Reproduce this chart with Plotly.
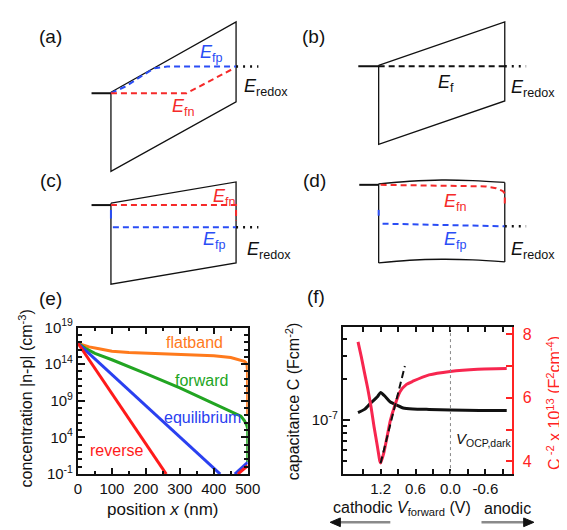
import plotly.graph_objects as go

W, H = 567, 530
FONT = "Liberation Sans, Arial, sans-serif"

# ---------------- panel (e): |n-p| vs position ----------------
pos_flat = [0, 15, 33, 62, 100, 150, 200, 300, 400, 450, 472, 485, 490, 495, 498, 499.5, 500]
conc_flat = [7e16, 4e16, 2.3e16, 1.3e16, 6e15, 3.8e15, 3.0e15, 2.3e15, 1.4e15, 8e14, 4.6e14, 3.2e14, 2.5e14, 1.6e14, 8e13, 1e13, 1.5e7]

pos_fwd = [0, 25, 50, 100, 200, 300, 400, 450, 480, 490, 497, 500, 500]
conc_fwd = [7e16, 1.2e16, 3e15, 4e14, 5e12, 6e10, 4e8, 4e7, 8e6, 2e6, 5e5, 1.6e5, 4]

pos_eq = [0, 419, None, 462, 500]
conc_eq = [7e16, 0.1, None, 0.1, 4]

pos_rev = [0, 260, None, 471, 500]
conc_rev = [7e16, 0.1, None, 0.1, 1.4]

e_yticks = [1e-1, 1e4, 1e9, 1e14, 1e19]
e_yticktext = ["10<sup>-1</sup>", "10<sup>4</sup>", "10<sup>9</sup>", "10<sup>14</sup>", "10<sup>19</sup>"]
e_yminor = [10.0 ** k for k in range(-1, 20)]

# ---------------- panel (f): capacitance vs V ----------------
V_cap = [1.588, 1.478, 1.367, 1.255, 1.2, 1.117, 1.033, 0.922, 0.812, 0.645, 0.367, 0.0, -0.5, -0.967]
C_cap = [1.135e-7, 1.2e-7, 1.34e-7, 1.49e-7, 1.6e-7, 1.49e-7, 1.36e-7, 1.29e-7, 1.23e-7, 1.21e-7, 1.2e-7, 1.19e-7, 1.18e-7, 1.18e-7]

V_ms = [1.588, 1.533, 1.478, 1.422, 1.367, 1.312, 1.255, 1.212, 1.2, 1.145, 1.088, 1.033, 0.95, 0.867, 0.755, 0.645, 0.367, 0.005, -0.467, -0.967]
C_ms = [7.76, 7.3, 6.8, 6.3, 5.74, 5.08, 4.47, 4.0, 3.95, 4.27, 4.78, 5.28, 5.79, 6.19, 6.42, 6.52, 6.72, 6.83, 6.9, 6.92]

V_fit = [1.2, 0.783]
C_fit = [3.94, 7.0]

V_OCP = 0.0
f_xticks = [1.2, 0.6, 0.0, -0.6]
f_xticktext = ["1.2", "0.6", "0.0", "-0.6"]
f_yminor = [4e-8, 5e-8, 6e-8, 7e-8, 8e-8, 9e-8, 2e-7, 3e-7, 4e-7]

# ---------------- schematic band diagrams (pixel coordinates) ----------------
a_band_x = [102, 231, 231, 102, 102]
a_band_y = [76, 3, 86, 158, 76]
a_metal_x = [82, 102]
a_metal_y = [77, 77]
a_efp_x = [102, 117, 133, 147, 160, 231]
a_efp_y = [77, 70, 59.5, 51, 49.3, 49.3]
a_efn_x = [102, 180, 229]
a_efn_y = [77, 77, 51]
a_redox_x = [231, 254]
a_redox_y = [49.3, 49.3]

b_band_x = [378, 508, 508, 378, 378]
b_band_y = [48, 3, 85, 130, 48]
b_metal_x = [357, 378]
b_metal_y = [49, 49]
b_ef_x = [378, 508]
b_ef_y = [49, 49]
b_redox_x = [508, 530]
b_redox_y = [49, 49]

c_band_x = [102, 231, 231, 102, 102]
c_band_y = [191, 169, 253, 275, 191]
c_metal_x = [82, 102]
c_metal_y = [193, 193]
c_efn_x = [102, 231, 231]
c_efn_y = [193, 193, 209]
c_efp_x = [104, 231]
c_efp_y = [216, 216]
c_efp_edge_x = [102, 102]
c_efp_edge_y = [198, 207]
c_redox_x = [231, 254]
c_redox_y = [216, 216]

d_top_x = [378, 410, 443, 475, 508]
d_top_y = [171, 168.3, 167, 167.6, 169.5]
d_bot_x = [378, 410, 443, 475, 508]
d_bot_y = [253, 250.2, 249.2, 249.8, 252]
d_left_x = [378, 378]
d_left_y = [171, 253]
d_right_x = [508, 508]
d_right_y = [169.5, 252]
d_metal_x = [358, 378]
d_metal_y = [172, 172]
d_efn_x = [380, 440, 488, 499, 506, 508, 508]
d_efn_y = [172, 172.5, 173.6, 175.5, 178.5, 181, 192]
d_efp_x = [382, 508]
d_efp_y = [212.3, 215]
d_efp_edge_x = [378, 378]
d_efp_edge_y = [198, 204]
d_redox_x = [508, 530]
d_redox_y = [215, 215]

# arrows under panel (f)
arr_left_x = [390, 336]
arr_right_x = [484, 529]
arr_y = [522, 522]
head_left_x = [328, 338.5, 338.5, 328]
head_left_y = [522, 517.5, 526.5, 522]
head_right_x = [538, 527.5, 527.5, 538]
head_right_y = [522, 517.5, 526.5, 522]

BLACK = "#111111"
BLUE = "#2a4df5"
RED = "#f52a2a"
ORANGE = "#ff7a1c"
GREEN = "#22a522"
EBLUE = "#2a40f0"
ERED = "#ff1a1a"
PINK = "#f7264f"
TRED = "#ff2424"

fig = go.Figure()

# ---- (e) curves
for xs, ys, col in [(pos_flat, conc_flat, ORANGE), (pos_fwd, conc_fwd, GREEN),
                    (pos_eq, conc_eq, EBLUE), (pos_rev, conc_rev, ERED)]:
    fig.add_trace(go.Scatter(x=xs, y=ys, mode="lines", xaxis="x", yaxis="y",
                             line=dict(color=col, width=3), showlegend=False))

# ---- (f) curves
fig.add_trace(go.Scatter(x=V_cap, y=C_cap, mode="lines", xaxis="x2", yaxis="y2",
                         line=dict(color=BLACK, width=3, shape="spline", smoothing=0.6),
                         showlegend=False))
fig.add_trace(go.Scatter(x=V_ms, y=C_ms, mode="lines", xaxis="x2", yaxis="y3",
                         line=dict(color=PINK, width=3, shape="spline", smoothing=0.6),
                         showlegend=False))
fig.add_trace(go.Scatter(x=V_fit, y=C_fit, mode="lines", xaxis="x2", yaxis="y3",
                         line=dict(color=BLACK, width=2, dash="7px,4px"), showlegend=False))

# ---- schematics
def seg(xs, ys, color=BLACK, width=1.3, dash=None, shape="linear"):
    fig.add_trace(go.Scatter(x=xs, y=ys, mode="lines", xaxis="x3", yaxis="y4",
                             line=dict(color=color, width=width, dash=dash, shape=shape),
                             showlegend=False, hoverinfo="skip"))

DASH = "6px,4px"
DOT = "2px,5px"
# (a)
seg(a_band_x, a_band_y)
seg(a_metal_x, a_metal_y, width=2)
seg(a_efp_x, a_efp_y, BLUE, 2, DASH)
seg(a_efn_x, a_efn_y, RED, 2, DASH)
seg(a_redox_x, a_redox_y, BLACK, 2.5, DOT)
# (b)
seg(b_band_x, b_band_y)
seg(b_metal_x, b_metal_y, width=2)
seg(b_ef_x, b_ef_y, BLACK, 2, DASH)
seg(b_redox_x, b_redox_y, BLACK, 2.5, DOT)
# (c)
seg(c_band_x, c_band_y)
seg(c_metal_x, c_metal_y, width=2)
seg(c_efn_x, c_efn_y, RED, 2, DASH)
seg(c_efp_x, c_efp_y, BLUE, 2, DASH)
seg(c_efp_edge_x, c_efp_edge_y, BLUE, 2)
seg(c_redox_x, c_redox_y, BLACK, 2.5, DOT)
# (d)
seg(d_top_x, d_top_y, shape="spline")
seg(d_bot_x, d_bot_y, shape="spline")
seg(d_left_x, d_left_y)
seg(d_right_x, d_right_y)
seg(d_metal_x, d_metal_y, width=2)
seg(d_efn_x, d_efn_y, RED, 2, DASH)
seg(d_efp_x, d_efp_y, BLUE, 2, DASH)
seg(d_efp_edge_x, d_efp_edge_y, BLUE, 2)
seg(d_redox_x, d_redox_y, BLACK, 2.5, DOT)

# arrows
seg(arr_left_x, arr_y, "#8a8a8a", 2.5)
seg(arr_right_x, arr_y, "#8a8a8a", 2.5)
for hx, hy in [(head_left_x, head_left_y), (head_right_x, head_right_y)]:
    fig.add_trace(go.Scatter(x=hx, y=hy, mode="lines", fill="toself", fillcolor=BLACK,
                             xaxis="x3", yaxis="y4", line=dict(color=BLACK, width=1),
                             showlegend=False, hoverinfo="skip"))

# vertical dotted line at V_OCP
fig.add_shape(type="line", xref="x2", yref="y2 domain", x0=V_OCP, x1=V_OCP, y0=0, y1=1,
              line=dict(color="#888888", width=1, dash="dot"))

ann = []
def txt(x, y, t, size=16, color=BLACK, xanchor="center", angle=0):
    ann.append(dict(x=x, y=y, xref="x3", yref="y4", text=t, showarrow=False,
                    font=dict(size=size, color=color, family=FONT),
                    xanchor=xanchor, yanchor="middle", textangle=angle))

# panel letters
for lx, ly, lt in [(40, 18, "(a)"), (311, 18, "(b)"), (40, 167, "(c)"), (312, 167, "(d)"),
                   (40, 290, "(e)"), (313, 288, "(f)")]:
    txt(lx, ly, lt, size=19)

EF = lambda s: "<i>E</i><sub>%s</sub>" % s
# (a)
txt(192, 36, EF("fp"), 18, BLUE, "left")
txt(163, 92, EF("fn"), 18, RED, "left")
txt(237, 71, EF("redox"), 18, BLACK, "left")
# (b)
txt(437, 67, EF("f"), 18, BLACK, "left")
txt(512, 72, EF("redox"), 18, BLACK, "left")
# (c)
txt(205, 185, EF("fn"), 18, RED, "left")
txt(195, 230, EF("fp"), 18, BLUE, "left")
txt(240, 240, EF("redox"), 18, BLACK, "left")
# (d)
txt(443, 190, EF("fn"), 18, RED, "left")
txt(443, 230, EF("fp"), 18, BLUE, "left")
txt(512, 240, EF("redox"), 18, BLACK, "left")

# (e) labels
txt(188, 336, "flatband", 16, ORANGE)
txt(195, 375, "forward", 16, GREEN)
txt(196, 413, "equilibrium", 16, EBLUE)
txt(108, 448, "reverse", 16, ERED)
txt(156, 509, "position <i>x</i> (nm)", 17)
txt(14, 394, "concentration |n-p| (cm<sup>-3</sup>)", 16, angle=-90)

# (f) labels
txt(456, 436, "<i>V</i><sub>OCP,dark</sub>", 15, BLACK, "left")
txt(289, 396, "capacitance C (Fcm<sup>-2</sup>)", 16, angle=-90)
txt(558, 398, "C<sup> -2</sup> x 10<sup>13</sup> (F<sup>2</sup>cm<sup>-4</sup>)", 16, TRED, angle=-90)
txt(329, 508, "cathodic <i>V</i><sub>forward</sub> (V)", 16, BLACK, "left")
txt(485, 508, "anodic", 16, BLACK, "left")

def dom_x(a, b):
    return [a / W, b / W]

def dom_y(top, bottom):
    return [1 - bottom / H, 1 - top / H]

axis_common = dict(showgrid=False, zeroline=False, ticks="inside", showline=True,
                   linecolor=BLACK, linewidth=2, tickcolor=BLACK, tickwidth=1.5,
                   tickfont=dict(size=15, family=FONT, color=BLACK))

fig.update_layout(
    width=W, height=H, margin=dict(l=0, r=0, t=0, b=0),
    paper_bgcolor="white", plot_bgcolor="rgba(0,0,0,0)",
    font=dict(family=FONT, color=BLACK),
    showlegend=False,
    annotations=ann,
    xaxis=dict(axis_common, domain=dom_x(68, 243), anchor="y", range=[0, 500],
               tickvals=[0, 100, 200, 300, 400, 500], ticklen=6, mirror="ticks",
               minor=dict(dtick=50, tick0=0, ticklen=3, ticks="inside", tickcolor=BLACK, tickwidth=1.5)),
    yaxis=dict(axis_common, domain=dom_y(320, 472), anchor="x", type="log", range=[-1, 19],
               tickvals=e_yticks, ticktext=e_yticktext, ticklen=7, mirror="ticks",
               minor=dict(tickvals=e_yminor, ticklen=4, ticks="inside", tickcolor=BLACK, tickwidth=1.5)),
    xaxis2=dict(axis_common, domain=dom_x(341, 515), anchor="y2", range=[1.85, -1.05],
                tickvals=f_xticks, ticktext=f_xticktext, ticklen=5, mirror="ticks",
                minor=dict(tickvals=[1.5, 0.9, 0.3, -0.3, -0.9], ticklen=5, ticks="inside",
                           tickcolor=BLACK, tickwidth=1.5)),
    yaxis2=dict(axis_common, domain=dom_y(319, 472), anchor="x2", type="log",
                range=[-7.4, -6.307], tickvals=[1e-7], ticktext=["10<sup>-7</sup>"], ticklen=7,
                minor=dict(tickvals=f_yminor, ticklen=4, ticks="inside", tickcolor=BLACK, tickwidth=1.5)),
    yaxis3=dict(showgrid=False, zeroline=False, overlaying="y2", side="right", anchor="x2",
                range=[3.6, 8.24], tickvals=[4, 6, 8], ticks="inside", ticklen=6,
                tickcolor=TRED, tickwidth=1.5, showline=True, linecolor=TRED, linewidth=2,
                ticklabelstandoff=6,
                tickfont=dict(size=16, family=FONT, color=TRED),
                minor=dict(tickvals=[5, 7], ticklen=6, ticks="inside", tickcolor=TRED, tickwidth=1.5)),
    xaxis3=dict(domain=[0, 1], range=[0, W], visible=False, anchor="y4", fixedrange=True),
    yaxis4=dict(domain=[0, 1], range=[H, 0], visible=False, anchor="x3", fixedrange=True),
)

fig.write_html("out.html")
